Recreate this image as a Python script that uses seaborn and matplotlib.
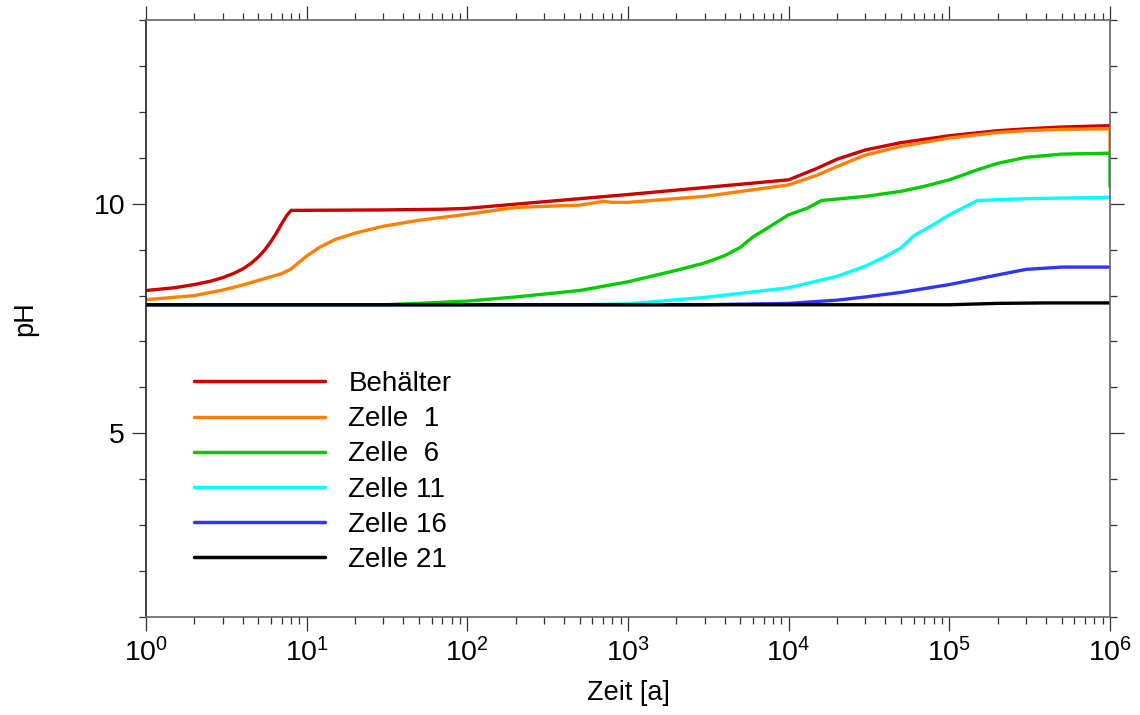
import numpy as np
import pandas as pd
import matplotlib
matplotlib.use('Agg')
import matplotlib.pyplot as plt
import seaborn as sns
from matplotlib.ticker import FixedLocator, MultipleLocator, FixedFormatter, NullFormatter

sns.set_theme(style='white')
plt.rcParams['font.family'] = ['Liberation Sans', 'DejaVu Sans']
plt.rcParams['mathtext.fontset'] = 'custom'
plt.rcParams['mathtext.rm'] = 'Liberation Sans'
plt.rcParams['mathtext.it'] = 'Liberation Sans:italic'
plt.rcParams['mathtext.bf'] = 'Liberation Sans:bold'
plt.rcParams['text.color'] = 'black'
plt.rcParams['axes.labelcolor'] = 'black'

# ---- data ----
series_names = ['Behälter', 'Zelle  1', 'Zelle  6', 'Zelle 11', 'Zelle 16', 'Zelle 21']
series_colors = ['#cc0000', '#ff8000', '#00cc00', '#00ffff', '#3333ff', '#000000']

x_ticks = [1, 10, 100, 1e3, 1e4, 1e5, 1e6]
x_tick_labels = [r'$\mathregular{10^{0}}$', r'$\mathregular{10^{1}}$', r'$\mathregular{10^{2}}$',
                 r'$\mathregular{10^{3}}$', r'$\mathregular{10^{4}}$', r'$\mathregular{10^{5}}$',
                 r'$\mathregular{10^{6}}$']

t_beh = [1, 1.5, 2, 2.5, 3, 3.5, 4, 4.5, 5, 5.5, 6, 6.5, 7, 7.5, 8, 30, 70, 100, 1e3, 1e4, 1.5e4, 2e4, 3e4, 5e4, 1e5, 2e5, 3e5, 5e5, 1e6]
ph_beh = [8.11, 8.17, 8.24, 8.31, 8.39, 8.48, 8.58, 8.70, 8.84, 9.0, 9.18, 9.37, 9.57, 9.74, 9.855, 9.865, 9.88, 9.90, 10.2, 10.52, 10.77, 10.97, 11.17, 11.33, 11.48, 11.59, 11.63, 11.67, 11.70]

t_z1 = [1, 2, 3, 4, 5, 6, 7, 8, 9, 10, 12, 15, 20, 30, 50, 100, 200, 500, 700, 800, 1e3, 3e3, 1e4, 1.5e4, 2e4, 3e4, 5e4, 1e5, 2e5, 3e5, 5e5, 1e6, 1e6]
ph_z1 = [7.91, 8.0, 8.12, 8.23, 8.33, 8.41, 8.48, 8.58, 8.73, 8.86, 9.05, 9.22, 9.36, 9.51, 9.64, 9.77, 9.92, 9.97, 10.05, 10.03, 10.03, 10.16, 10.41, 10.62, 10.81, 11.06, 11.25, 11.43, 11.55, 11.59, 11.62, 11.63, 11.1]

t_z6 = [1, 30, 50, 100, 200, 500, 1e3, 2e3, 3e3, 4e3, 5e3, 6e3, 7e3, 1e4, 1.3e4, 1.6e4, 3e4, 5e4, 7e4, 1e5, 1.5e5, 2e5, 3e5, 5e5, 1e6, 1e6]
ph_z6 = [7.8, 7.8, 7.83, 7.88, 7.97, 8.11, 8.30, 8.55, 8.71, 8.87, 9.05, 9.28, 9.42, 9.76, 9.90, 10.07, 10.16, 10.27, 10.38, 10.52, 10.74, 10.88, 11.01, 11.08, 11.10, 10.38]

t_z11 = [1, 500, 1e3, 3e3, 1e4, 2e4, 3e4, 4e4, 5e4, 6e4, 8e4, 1e5, 1.5e5, 3e5, 1e6]
ph_z11 = [7.8, 7.8, 7.82, 7.96, 8.17, 8.42, 8.64, 8.85, 9.04, 9.30, 9.55, 9.76, 10.07, 10.11, 10.14]

t_z16 = [1, 3e3, 1e4, 2e4, 3e4, 5e4, 1e5, 2e5, 3e5, 5e5, 1e6]
ph_z16 = [7.8, 7.8, 7.83, 7.90, 7.97, 8.07, 8.24, 8.45, 8.57, 8.62, 8.62]

t_z21 = [1, 1e5, 2e5, 4e5, 1e6]
ph_z21 = [7.8, 7.8, 7.83, 7.84, 7.84]

all_t = [t_beh, t_z1, t_z6, t_z11, t_z16, t_z21]
all_ph = [ph_beh, ph_z1, ph_z6, ph_z11, ph_z16, ph_z21]

frames = []
for name, tt, pp in zip(series_names, all_t, all_ph):
    frames.append(pd.DataFrame({'t': tt, 'pH': pp, 'Serie': name}))
df = pd.concat(frames, ignore_index=True)

# ---- plot ----
fig = plt.figure(figsize=(11.4, 7.15), dpi=100)
ax = fig.add_axes([0.1281, 0.137, 0.8456, 0.835])

sns.lineplot(data=df, x='t', y='pH', hue='Serie', hue_order=series_names,
             palette=dict(zip(series_names, series_colors)),
             estimator=None, sort=False, linewidth=2.4, ax=ax)

ax.set_xscale('log')
ax.set_xlim(1, 1e6)
ax.set_ylim(1, 14)

minor_x = [m * 10 ** d for d in range(6) for m in range(2, 10)]
ax.xaxis.set_major_locator(FixedLocator(x_ticks))
ax.xaxis.set_major_formatter(FixedFormatter(x_tick_labels))
ax.xaxis.set_minor_locator(FixedLocator(minor_x))
ax.xaxis.set_minor_formatter(NullFormatter())
ax.yaxis.set_major_locator(FixedLocator([5, 10]))
ax.yaxis.set_minor_locator(MultipleLocator(1))

ax.tick_params(which='both', direction='out', top=True, right=True, bottom=True, left=True,
               colors='#333333', labelcolor='black', width=0.9)
ax.tick_params(which='major', length=10, labelsize=20.5, pad=5)
ax.tick_params(which='minor', length=5)

for s in ax.spines.values():
    s.set_color('#666666')
    s.set_linewidth(1.2)
ax.spines['left'].set_color('#222222')

ax.set_xlabel('Zeit [a]', fontsize=19.5, labelpad=9)
ax.set_ylabel('pH', fontsize=19.5, labelpad=40)

leg = ax.legend(loc='upper left', bbox_to_anchor=(0.050, 0.412), frameon=False,
                fontsize=20, handlelength=4.7, handletextpad=0.85, labelspacing=0.33,
                borderpad=0, borderaxespad=0)
for line in leg.get_lines():
    line.set_linewidth(2.5)

fig.savefig('out.png', dpi=100)
